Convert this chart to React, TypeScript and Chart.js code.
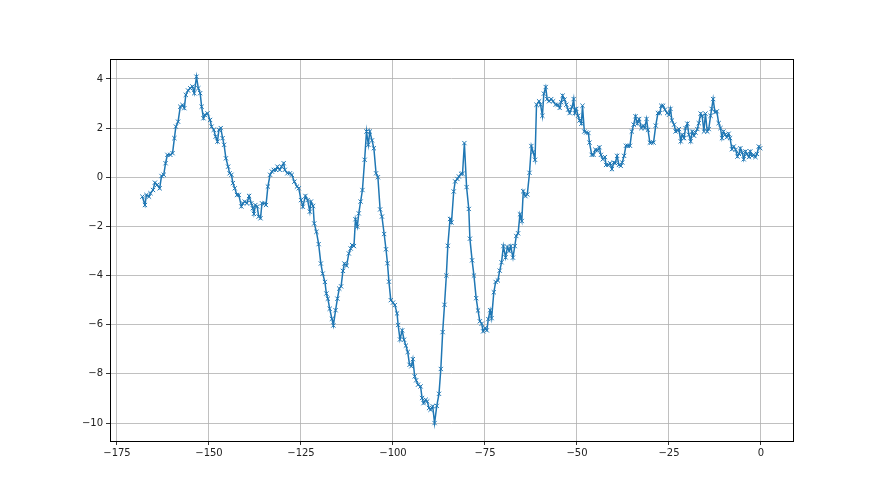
import React, { useEffect, useRef } from "react";
import { Chart, registerables } from "chart.js";

Chart.register(...registerables);

const xValues: number[] = [
  -168.1, -167.4, -167.0, -166.3, -165.9, -165.2, -164.7, -164.1, -163.4, -162.9,
  -162.3, -161.8, -161.3, -160.5, -159.9, -159.4, -159.0, -158.4, -157.8, -157.2,
  -156.7, -156.3, -155.7, -155.1, -154.5, -154.0, -153.4, -152.9, -152.4, -152.0,
  -151.5, -151.1, -150.4, -149.7, -149.3, -148.7, -148.2, -147.7, -147.3, -146.8,
  -146.3, -145.9, -145.4, -144.8, -144.4, -143.9, -143.5, -143.0, -142.4, -141.9,
  -141.2, -140.8, -140.3, -139.7, -139.1, -138.5, -138.1, -137.8, -137.4, -136.9,
  -136.5, -136.0, -135.6, -134.9, -134.5, -134.0, -133.4, -132.9, -132.4, -131.8,
  -131.4, -130.8, -130.3, -129.7, -129.4, -128.7, -128.0,
  -127.5, -126.8, -126.1, -125.6, -125.0, -124.5, -123.8, -123.2, -122.6, -122.3,
  -121.7, -121.4, -120.8, -120.2, -119.6, -119.1, -118.5, -118.1, -117.7, -117.2,
  -116.6, -116.2, -115.6, -115.1, -114.6, -114.1, -113.6, -113.2, -112.6, -112.0,
  -111.5, -111.1, -110.6, -110.2, -109.7, -109.3, -108.8, -108.3, -107.7, -107.2,
  -106.7, -106.3, -105.7, -105.2, -104.6, -104.1, -103.5,
  -103.0, -102.4, -101.9, -101.5, -101.1, -100.6, -100.0, -99.5, -98.9, -98.6,
  -98.1, -97.5, -97.0, -96.5, -96.0, -95.5, -95.0, -94.6, -94.1, -93.7,
  -93.2, -92.5, -92.1, -91.7, -91.1, -90.7, -90.2, -89.8, -89.2, -88.7,
  -88.1, -87.5, -87.0, -86.5, -86.0, -85.5, -85.1, -84.5, -84.1, -83.5,
  -83.1, -82.5, -82.1, -81.5, -81.1, -80.6, -80.0, -79.4, -79.1, -78.5,
  -78.0, -77.4, -76.9, -76.4, -75.9, -75.5, -75.0, -74.5, -74.1, -73.6,
  -73.2, -72.6, -72.1, -71.5, -71.0, -70.5, -70.0, -69.4, -68.9, -68.4,
  -68.0, -67.4, -66.9, -66.5, -66.0, -65.5, -65.0, -64.6, -64.0, -63.5,
  -62.9, -62.4, -61.9, -61.4,
  -61.0, -60.3, -59.9, -59.4, -59.0, -58.5, -58.1, -57.6, -57.0, -56.5,
  -55.8, -55.2, -54.7, -54.3, -53.9, -53.4, -52.9, -52.4, -52.0, -51.3,
  -50.9, -50.6, -50.2, -49.7, -49.3, -48.8, -48.5, -48.0, -47.5, -46.9,
  -46.6, -46.0, -45.5, -45.0, -44.4, -43.9, -43.5, -43.0, -42.4, -42.1,
  -41.5, -41.0, -40.5, -40.0, -39.6, -39.1, -38.6, -38.1, -37.7, -37.2,
  -36.7, -36.2, -35.6, -35.1, -34.6, -34.1, -33.6, -33.1,
  -32.5, -32.0, -31.6, -31.1, -30.7, -30.2, -29.8, -29.2, -28.6, -28.0,
  -27.5, -27.1, -26.6, -26.1, -25.5, -25.0, -24.6, -24.2, -23.6, -23.2,
  -22.7, -22.3, -21.8, -21.4, -20.9, -20.5, -20.0, -19.6, -19.1, -18.7,
  -18.2, -17.8, -17.3, -16.9, -16.4, -16.0, -15.5, -15.1, -14.6, -14.2,
  -13.7, -13.4, -13.0, -12.5, -12.0, -11.5, -11.0, -10.6, -10.2, -9.7,
  -9.3, -8.8, -8.4, -7.9, -7.4, -6.9, -6.4, -6.0, -5.6, -5.1,
  -4.7, -4.2, -3.8, -3.3, -2.9, -2.4, -2.0, -1.5, -1.1, -0.6,
  -0.2,
];

const yValues: number[] = [
  -0.79, -1.13, -0.72, -0.79, -0.65, -0.52, -0.22, -0.31, -0.45, 0.05,
  0.1, 0.57, 0.91, 0.91, 0.98, 1.59, 2.06, 2.26, 2.87, 2.94,
  2.81, 3.35, 3.53, 3.62, 3.69, 3.42, 4.09, 3.62, 3.42, 2.87,
  2.4, 2.54, 2.6, 2.33, 2.06, 1.93, 1.65, 1.45, 1.93, 2.0,
  1.59, 1.32, 0.77, 0.43, 0.16, 0.1, -0.24, -0.45, -0.72, -0.72,
  -1.19, -1.06, -0.99, -1.06, -0.76, -1.06, -1.26, -1.49, -1.13, -1.19,
  -1.6, -1.67, -1.06, -1.06, -1.13, -0.38, 0.1, 0.23, 0.3, 0.3,
  0.43, 0.3, 0.43, 0.57, 0.3, 0.16, 0.16,
  0.1, -0.18, -0.38, -0.45, -0.93, -1.2, -0.76, -0.93, -1.4, -0.99,
  -1.17, -1.88, -2.22, -2.72, -3.51, -3.92, -4.26, -4.73, -4.94, -5.35,
  -5.76, -6.03, -5.41, -4.94, -4.53, -4.44, -3.81, -3.51, -3.6, -3.1,
  -2.9, -2.76, -2.8, -1.71, -2.01, -1.47, -0.99, -0.52, 0.71, 1.86,
  1.32, 1.86, 1.5, 1.18, 0.16, 0.0, -1.31,
  -1.6, -2.31, -2.93, -3.5, -4.25, -5.0, -5.1, -5.2, -5.54, -6.01,
  -6.6, -6.23, -6.61, -6.85, -7.11, -7.63, -7.69, -7.4, -8.1, -8.26,
  -8.44, -8.51, -8.98, -9.19, -9.05, -9.12, -9.39, -9.46, -9.32, -10.0,
  -9.3, -8.81, -7.8, -6.3, -5.19, -4.0, -2.79, -1.7, -1.84, -0.58,
  -0.17, -0.07, 0.03, 0.14, 0.14, 1.39, -0.4, -1.29, -2.5, -3.38,
  -4.0, -4.92, -5.42, -5.86, -5.96, -6.27, -6.14, -6.23, -5.77, -5.41,
  -5.73, -4.68, -4.26, -4.2, -3.8, -3.46, -2.8, -3.26, -2.84, -3.0,
  -2.8, -3.27, -2.8, -2.39, -2.28, -1.51, -1.78, -0.57, -0.77, -0.7,
  0.18, 1.27, 1.02, 0.71,
  2.95, 3.09, 2.95, 2.5, 3.4, 3.67, 3.18, 3.09, 3.18, 3.09,
  2.95, 2.95, 2.82, 3.05, 3.32, 3.16, 2.95, 2.75, 2.61, 2.86,
  3.18, 2.61, 2.78, 2.5, 2.31, 2.18, 2.91, 1.86, 1.82, 1.8,
  1.41, 0.91, 0.91, 1.12, 1.09, 1.22, 0.91, 0.73, 0.82, 0.5,
  0.5, 0.57, 0.33, 0.6, 0.57, 0.87, 0.5, 0.46, 0.6, 0.87,
  1.28, 1.28, 1.28, 1.86, 2.14, 2.48, 2.18, 2.37,
  2.0, 2.1, 2.0, 2.37, 1.93, 1.41, 1.41, 1.41, 2.1, 2.61,
  2.61, 2.91, 2.91, 2.75, 2.61, 2.54, 2.78, 2.31, 2.14, 1.86,
  1.9, 1.96, 1.46, 1.73, 1.59, 2.0, 2.18, 1.73, 1.46, 1.86,
  1.69, 1.82, 1.96, 2.2, 2.59, 2.5, 1.86, 2.59, 1.86, 1.96,
  2.5, 2.78, 3.18, 2.64, 2.68, 2.2, 2.0, 1.59, 1.86, 1.73,
  1.63, 1.77, 1.59, 1.14, 1.25, 1.12, 0.84, 0.95, 1.18, 1.0,
  0.73, 1.05, 0.95, 0.82, 1.05, 0.87, 0.91, 0.82, 0.95, 1.25,
  1.18,
];

const xTicks: number[] = [-175, -150, -125, -100, -75, -50, -25, 0];
const yTicks: number[] = [-10, -8, -6, -4, -2, 0, 2, 4];

const fmt = (v: number) => (v < 0 ? "\u2212" + Math.abs(v) : String(v));

const framePlugin = {
  id: "frame",
  afterDraw(chart: any) {
    const { ctx, chartArea } = chart;
    ctx.save();
    ctx.strokeStyle = "#000";
    ctx.lineWidth = 1;
    ctx.strokeRect(
      Math.round(chartArea.left) + 0.5,
      Math.round(chartArea.top) + 0.5,
      Math.round(chartArea.right - chartArea.left),
      Math.round(chartArea.bottom - chartArea.top)
    );
    ctx.restore();
  },
};

export default function App() {
  const ref = useRef<HTMLCanvasElement | null>(null);
  useEffect(() => {
    document.body.style.margin = "0";
    const canvas = ref.current!;
    const data = xValues.map((x, i) => ({ x, y: yValues[i] }));
    const chart = new Chart(canvas, {
      type: "line",
      data: {
        datasets: [
          {
            data,
            borderColor: "#1f77b4",
            backgroundColor: "#1f77b4",
            borderWidth: 1.5,
            pointStyle: "crossRot",
            pointRadius: 3,
            pointBorderWidth: 1,
            pointBorderColor: "#1f77b4",
            tension: 0,
            fill: false,
          },
        ],
      },
      options: {
        animation: false,
        responsive: false,
        devicePixelRatio: 1,
        parsing: false as any,
        layout: { padding: { left: 0, top: 59, right: 87, bottom: 0 } },
        plugins: { legend: { display: false }, tooltip: { enabled: false } },
        scales: {
          x: {
            type: "linear",
            min: -176.9,
            max: 8.7,
            afterBuildTicks: (s: any) => {
              s.ticks = xTicks.map((v) => ({ value: v }));
            },
            afterFit: (s: any) => {
              s.height = 54;
            },
            grid: {
              color: "#b0b0b0",
              lineWidth: 0.8,
              tickColor: "#000",
              tickLength: 4,
              drawTicks: true,
            },
            border: { display: false },
            ticks: {
              color: "#222",
              font: { family: "DejaVu Sans", size: 10 },
              padding: 2,
              maxRotation: 0,
              autoSkip: false,
              callback: (v: any) => fmt(Number(v)),
            },
          },
          y: {
            type: "linear",
            min: -10.73,
            max: 4.81,
            afterBuildTicks: (s: any) => {
              s.ticks = yTicks.map((v) => ({ value: v }));
            },
            afterFit: (s: any) => {
              s.width = 110;
            },
            grid: {
              color: "#b0b0b0",
              lineWidth: 0.8,
              tickColor: "#000",
              tickLength: 4,
              drawTicks: true,
            },
            border: { display: false },
            ticks: {
              color: "#222",
              font: { family: "DejaVu Sans", size: 10 },
              padding: 3,
              autoSkip: false,
              callback: (v: any) => fmt(Number(v)),
            },
          },
        },
      },
      plugins: [framePlugin],
    });
    return () => chart.destroy();
  }, []);
  return (
    <div style={{ position: "absolute", left: 0, top: 0, width: 880, height: 495, background: "#fff" }}>
      <canvas ref={ref} width={880} height={495} style={{ width: 880, height: 495 }} />
    </div>
  );
}
